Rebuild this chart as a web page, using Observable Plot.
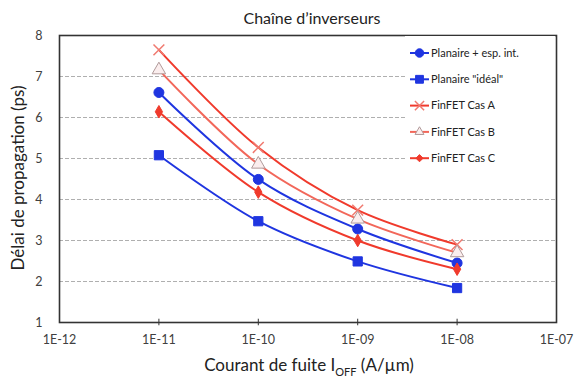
<!DOCTYPE html>
<html><head><meta charset="utf-8">
<script src="https://cdn.jsdelivr.net/npm/d3@7"></script>
<script src="https://cdn.jsdelivr.net/npm/@observablehq/plot@0.6"></script>
<style>
body{margin:0;background:#fff}
#chart svg{font-family:Lato,"Open Sans",sans-serif;display:block}
</style>
</head><body><div id="chart"></div>
<script>
const currents = [1e-11, 1e-10, 1e-9, 1e-8];
const planaireEspInt = [6.61, 4.49, 3.28, 2.45];
const planaireIdeal = [5.08, 3.47, 2.49, 1.84];
const finfetA = [7.65, 5.27, 3.74, 2.90];
const finfetB = [7.16, 4.86, 3.52, 2.70];
const finfetC = [6.14, 4.18, 3.00, 2.30];
const seriesNames = ["Planaire + esp. int.", "Planaire \"idéal\"", "FinFET Cas A", "FinFET Cas B", "FinFET Cas C"];
const seriesValues = [planaireEspInt, planaireIdeal, finfetA, finfetB, finfetC];
const xTicks = [1e-12, 1e-11, 1e-10, 1e-9, 1e-8, 1e-7];
const yTicks = [1, 2, 3, 4, 5, 6, 7, 8];
const gridTicks = [2, 3, 4, 5, 6, 7];
const title = "Chaîne d’inverseurs";
const yLabel = "Délai de propagation (ps)";

const BLUE = "#1f35e0", RED = "#f03a2c", PINK = "#f2675a";
const styles = [
  {line: BLUE, symbol: "circle", fill: BLUE, stroke: BLUE, r: 5},
  {line: BLUE, symbol: "square", fill: BLUE, stroke: BLUE, r: 5.2},
  {line: RED, symbol: "times", fill: "none", stroke: "#f07a70", r: 5},
  {line: PINK, symbol: "triangle", fill: "#fbeeee", stroke: "#b09a9a", r: 5},
  {line: RED, symbol: "diamond", fill: RED, stroke: RED, r: 3.8}
];

const data = seriesNames.flatMap((s, i) => currents.map((c, j) => ({series: s, idx: i, x: c, y: seriesValues[i][j]})));
const fmt = d => { const e = Math.round(Math.log10(d)); const a = Math.abs(e); return "1E" + (e < 0 ? "-" : "+") + String(a).padStart(2, "0"); };

const marks = [
  Plot.gridY(gridTicks, {stroke: "#9a9a9a", strokeOpacity: 1, strokeDasharray: "4,2", strokeWidth: 0.8}),
  Plot.axisY(yTicks, {tickSize: 0, tickPadding: 17, fontSize: 12.5, fill: "#404040"}),
  Plot.axisX(xTicks, {tickSize: 0, tickPadding: 13, fontSize: 12.5, fill: "#404040", tickFormat: fmt, label: null}),
  Plot.ruleX(xTicks.slice(1, -1), {x: d => d, y1: 0.92, y2: 1.08, stroke: "#333", strokeWidth: 1}),
];
seriesNames.forEach((s, i) => {
  const st = styles[i];
  const d = data.filter(r => r.idx === i);
  marks.push(Plot.line(d, {x: "x", y: "y", stroke: st.line, strokeWidth: 2, curve: "catmull-rom"}));
});
seriesNames.forEach((s, i) => {
  const st = styles[i];
  const d = data.filter(r => r.idx === i);
  marks.push(Plot.dot(d, {x: "x", y: "y", symbol: () => st.symbol, r: st.r, fill: st.fill, stroke: st.stroke, strokeWidth: st.symbol === "times" ? 1.5 : 1}));
});
marks.push(Plot.frame({stroke: "#333", strokeWidth: 1.6}));

const chart = Plot.plot({
  width: 577, height: 378,
  marginLeft: 59, marginRight: 21, marginTop: 35, marginBottom: 56,
  x: {type: "log", domain: [1e-12, 1e-7], label: null},
  y: {domain: [1, 8], label: null},
  symbol: {type: "identity"},
  marks
});

const svg = d3.select(chart);
// legend (white box over gridlines, inside plot area top-right)
const g = svg.append("g").attr("text-anchor", "start");
g.append("rect").attr("x", 405).attr("y", 36).attr("width", 150).attr("height", 140).attr("fill", "#fff");
seriesNames.forEach((s, i) => {
  const st = styles[i];
  const y = 53 + i * 26.3;
  g.append("line").attr("x1", 410).attr("x2", 429).attr("y1", y).attr("y2", y).attr("stroke", st.line).attr("stroke-width", 2);
  const symMap = {circle: d3.symbolCircle, square: d3.symbolSquare, times: d3.symbolTimes, triangle: d3.symbolTriangle2, diamond: d3.symbolDiamond2};
  g.append("path").attr("d", d3.symbol(symMap[st.symbol], Math.PI * (st.r * 0.85) ** 2)())
    .attr("transform", `translate(419.5,${y})`)
    .attr("fill", st.fill).attr("stroke", st.stroke).attr("stroke-width", st.symbol === "times" ? 1.5 : 1);
  g.append("text").attr("x", 431).attr("y", y).attr("dy", "0.35em").attr("text-anchor", "start").attr("font-size", 11).attr("fill", "#222").text(s);
});
// title
svg.append("text").attr("x", 312).attr("y", 18).attr("dy", "0.35em").attr("text-anchor", "middle")
  .attr("font-size", 16).attr("fill", "#222").text(title);
// y label
svg.append("text").attr("transform", "translate(18,178) rotate(-90)").attr("dy", "0.35em").attr("text-anchor", "middle")
  .attr("font-size", 17).attr("fill", "#222").text(yLabel);
// x label with subscript
const xl = svg.append("text").attr("x", 309).attr("y", 365).attr("dy", "0.35em").attr("text-anchor", "middle")
  .attr("font-size", 17).attr("fill", "#222");
xl.append("tspan").text("Courant de fuite I");
xl.append("tspan").attr("font-size", 11).attr("dy", 5).text("OFF");
xl.append("tspan").attr("dy", -5).text(" (A/µm)");

document.getElementById("chart").appendChild(chart);
</script>
</body></html>
